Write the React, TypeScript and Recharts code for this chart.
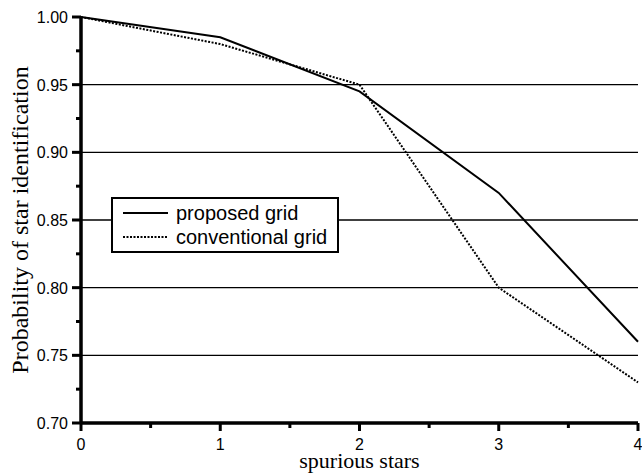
import { LineChart, Line, XAxis, YAxis, ReferenceLine, Legend } from "recharts";

const spurious = [0, 1, 2, 3, 4];
const proposed = [1.0, 0.985, 0.945, 0.87, 0.76];
const conventional = [1.0, 0.98, 0.95, 0.8, 0.73];

const xTicks = [0, 0.5, 1, 1.5, 2, 2.5, 3, 3.5, 4];
const xMajor = [0, 1, 2, 3, 4];
const yTicks = [0.7, 0.725, 0.75, 0.775, 0.8, 0.825, 0.85, 0.875, 0.9, 0.925, 0.95, 0.975, 1.0];
const yMajor = [0.7, 0.75, 0.8, 0.85, 0.9, 0.95, 1.0];
const gridValues = [0.75, 0.8, 0.85, 0.9, 0.95];

const data = spurious.map((s, i) => ({
  s,
  proposed: proposed[i],
  conventional: conventional[i],
}));

const sans = "'Liberation Sans', Arial, sans-serif";
const serif = "'Liberation Serif', 'Times New Roman', serif";
const ink = "black";

const XTick = (props: any) => {
  const { x, y, payload } = props;
  const major = xMajor.includes(payload.value);
  return (
    <g>
      <rect x={x - 1.5} y={y} width={3} height={major ? 8 : 5} fill={ink} />
      {major && (
        <text x={x} y={y + 27} textAnchor="middle" fontSize={16} fontFamily={sans} fill={ink}>
          {payload.value}
        </text>
      )}
    </g>
  );
};

const YTick = (props: any) => {
  const { x, y, payload } = props;
  const major = yMajor.includes(payload.value);
  const len = major ? 9 : 5;
  return (
    <g>
      <rect x={x - len} y={y - 1.5} width={len} height={3} fill={ink} />
      {major && (
        <text x={x - 13} y={y + 6} textAnchor="end" fontSize={16} fontFamily={sans} fill={ink}>
          {payload.value.toFixed(2)}
        </text>
      )}
    </g>
  );
};

const legendItems = [
  { name: "proposed grid", dash: undefined },
  { name: "conventional grid", dash: "2 1.5" },
];

const LegendBox = () => (
  <div
    style={{
      border: "2px solid #000",
      background: "#fff",
      padding: "2px 0 2px 10px",
      fontFamily: sans,
      fontSize: 20,
      lineHeight: "24px",
      width: 214,
      boxSizing: "content-box",
    }}
  >
    {legendItems.map((it) => (
      <div key={it.name} style={{ display: "flex", alignItems: "center", whiteSpace: "nowrap" }}>
        <svg width={46} height={10} style={{ marginRight: 7 }}>
          <line x1={0} x2={45} y1={5} y2={5} stroke={ink} strokeWidth={2} strokeDasharray={it.dash} />
        </svg>
        <span>{it.name}</span>
      </div>
    ))}
  </div>
);

export default function App() {
  return (
    <div style={{ position: "absolute", left: 0, top: 0, background: "#fff" }}>
      <LineChart width={642} height={475} data={data} margin={{ top: 17, right: 4, bottom: 0, left: 0 }}>
        {gridValues.map((v) => (
          <ReferenceLine key={v} y={v} stroke={ink} strokeWidth={1.3} />
        ))}
        <ReferenceLine x={0} stroke={ink} strokeWidth={3} />
        <ReferenceLine y={0.7} stroke={ink} strokeWidth={3} />
        <XAxis
          dataKey="s"
          type="number"
          domain={[0, 4]}
          ticks={xTicks}
          interval={0}
          height={52}
          tickSize={0}
          tickMargin={0}
          tickLine={false}
          tick={<XTick />}
          axisLine={{ stroke: ink, strokeWidth: 3 }}
          label={{
            content: (p: any) => {
              const vb = p.viewBox;
              return (
                <text
                  x={vb.x + vb.width / 2}
                  y={vb.y + 45}
                  textAnchor="middle"
                  fontSize={22}
                  fontFamily={serif}
                  fill={ink}
                >
                  spurious stars
                </text>
              );
            },
          }}
        />
        <YAxis
          type="number"
          domain={[0.7, 1.0]}
          ticks={yTicks}
          interval={0}
          width={81}
          tickSize={0}
          tickMargin={0}
          tickLine={false}
          tick={<YTick />}
          axisLine={{ stroke: ink, strokeWidth: 3 }}
          label={{
            content: (p: any) => {
              const vb = p.viewBox;
              const cx = 20;
              const cy = vb.y + vb.height / 2;
              return (
                <text
                  x={cx}
                  y={cy}
                  transform={`rotate(-90 ${cx} ${cy})`}
                  textAnchor="middle"
                  dominantBaseline="central"
                  fontSize={24}
                  fontFamily={serif}
                  fill={ink}
                >
                  Probability of star identification
                </text>
              );
            },
          }}
        />
        <Legend
          layout="vertical"
          align="center"
          verticalAlign="middle"
          content={<LegendBox />}
          wrapperStyle={{ position: "absolute", left: 111, top: 197, width: "auto" }}
        />
        <Line
          dataKey="proposed"
          stroke={ink}
          strokeWidth={2}
          dot={false}
          isAnimationActive={false}
          type="linear"
        />
        <Line
          dataKey="conventional"
          stroke={ink}
          strokeWidth={2}
          strokeDasharray="2 1.5"
          dot={false}
          isAnimationActive={false}
          type="linear"
        />
      </LineChart>
    </div>
  );
}
